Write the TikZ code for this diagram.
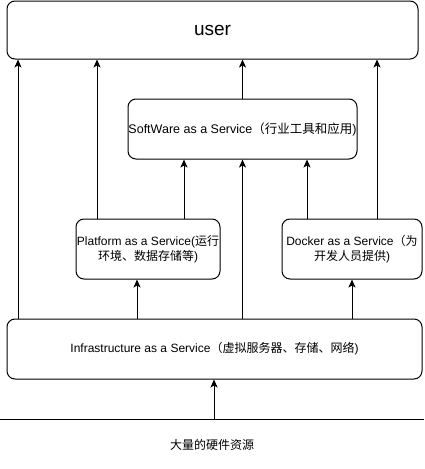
\documentclass[tikz,border=0pt]{standalone}
\usepackage{fontspec}
\setmainfont{Liberation Sans}
\newfontfamily\cjk{Noto Sans CJK SC}
\usetikzlibrary{arrows.meta, positioning, calc}
\tikzstyle{service} = [rectangle, rounded corners=8pt, draw=black, line width=1pt, fill=white, align=center, text centered, inner sep=0pt, minimum height=60pt, font=\fontsize{12}{15}\selectfont]
\tikzstyle{hardware} = [align=center, inner sep=0pt, font=\fontsize{12}{15}\selectfont]
\tikzstyle{arrow} = [line width=1pt, -{Stealth[length=8pt, width=7pt, inset=2pt]}]

\begin{document}
\begin{tikzpicture}[x=1pt, y=-1pt]

	\useasboundingbox (0,0) rectangle (424,469);

	% boxes
	\node (sUser)[service, minimum width=411pt, minimum height=58pt, font=\fontsize{19}{22}\selectfont] at (212.5,30) {user};
	\node (pSaaS)[service, minimum width=229pt, font=\fontsize{12.5}{15}\selectfont] at (242.5,129) {SoftWare as a Service{\cjk（行业工具和应用})};
	\node (pPaaS)[service, minimum width=144pt] at (148,249) {Platform as a Service({\cjk 运行}\\{\cjk 环境、数据存储等})};
	\node (pDocker)[service, minimum width=140pt] at (352,249) {Docker as a Service{\cjk（为}\\{\cjk 开发人员提供})};
	\node (pIaaS)[service, minimum width=415pt] at (214.5,349) {Infrastructure as a Service{\cjk（虚拟服务器、存储、网络})};

	% hardware
	\draw[line width=1pt] (0,419) -- (424,419);
	\coordinate (hwLine) at (214,419);
	\node (tHardware)[hardware] at (212,445) {\cjk 大量的硬件资源};

	% lines and arrows
	\draw[arrow] (hwLine) -- (pIaaS.south -| hwLine);

	\draw[arrow] (pIaaS.north -| 18,0) -- (sUser.south -| 18,0);
	\draw[arrow] (pIaaS.north -| 137,0) -- (pPaaS.south -| 137,0);
	\draw[arrow] (pIaaS.north -| 242.5,0) -- (pSaaS.south);
	\draw[arrow] (pIaaS.north -| 352,0) -- (pDocker.south);

	\draw[arrow] (pPaaS.north -| 97,0) -- (sUser.south -| 97,0);
	\draw[arrow] (pPaaS.north -| 184,0) -- (pSaaS.south -| 184,0);
	\draw[arrow] (pDocker.north -| 307,0) -- (pSaaS.south -| 307,0);
	\draw[arrow] (pDocker.north -| 377,0) -- (sUser.south -| 377,0);

	\draw[arrow] (pSaaS.north) -- (sUser.south -| pSaaS.north);

\end{tikzpicture}
\end{document}
